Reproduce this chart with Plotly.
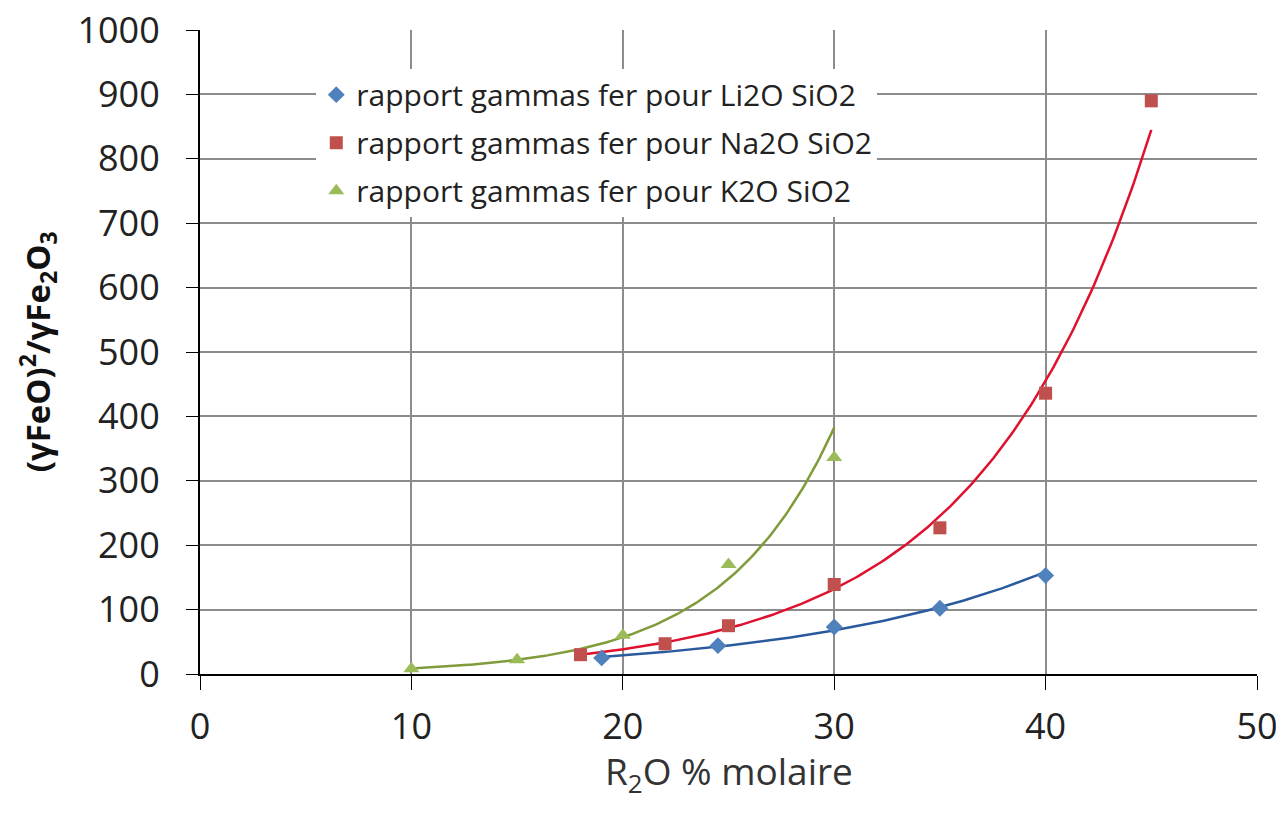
import numpy as np
import plotly.graph_objects as go

# Data
li_x = [19, 24.5, 30, 35, 40]
li_y = [25, 44, 73, 102, 153]
na_x = [18, 22, 25, 30, 35, 40, 45]
na_y = [30, 47, 75, 139, 227, 436, 890]
k_x = [10, 15, 20, 25, 30]
k_y = [8, 22, 60, 170, 336]

names = ["rapport gammas fer pour Li2O SiO2",
         "rapport gammas fer pour Na2O SiO2",
         "rapport gammas fer pour K2O SiO2"]
marker_colors = ["#4F81BD", "#C0504D", "#9BBB59"]
line_colors = ["#2A5A9E", "#E0112E", "#7F9B3A"]
symbols = ["diamond", "square", "triangle-up"]
msizes = [13, 13, 14]

FONT = "Open Sans"

fig = go.Figure()

series = [(li_x, li_y), (na_x, na_y), (k_x, k_y)]

# Exponential trendlines (least squares on log y, like a spreadsheet trendline)
for (xs, ys), lc in zip(series, line_colors):
    xs_a = np.array(xs, dtype=float)
    b, a = np.polyfit(xs_a, np.log(np.array(ys, dtype=float)), 1)
    xf = np.linspace(xs_a.min(), xs_a.max(), 200)
    fig.add_trace(go.Scatter(x=xf, y=np.exp(a + b * xf), mode="lines",
                             line=dict(color=lc, width=2.5),
                             showlegend=False, hoverinfo="skip"))

for i, ((xs, ys), n, mc, sym, ms) in enumerate(zip(series, names, marker_colors, symbols, msizes)):
    fig.add_trace(go.Scatter(x=xs, y=ys, mode="markers", name=n,
                             legendgroup=f"g{i}",
                             marker=dict(color=mc, symbol=sym, size=ms)))

fig.update_layout(
    width=1276, height=799,
    paper_bgcolor="white", plot_bgcolor="white",
    margin=dict(l=192, r=27, t=22, b=133),
    font=dict(family=FONT, color="#222222"),
    legend=dict(x=0.11, y=0.94, xanchor="left", yanchor="top",
                bgcolor="rgba(255,255,255,1)",
                font=dict(size=30, family=FONT, color="#222222"),
                tracegroupgap=6, itemsizing="trace"),
    annotations=[
        dict(text="R<sub>2</sub>O % molaire", xref="paper", yref="paper",
             x=0.5, y=-0.153, xanchor="center", yanchor="middle",
             showarrow=False, font=dict(size=37, family=FONT, color="#333333")),
        dict(text="<b>(γFeO)<sup>2</sup>/γFe<sub>2</sub>O<sub>3</sub></b>",
             xref="paper", yref="paper", x=-0.154, y=0.5,
             xanchor="center", yanchor="middle", textangle=-90,
             showarrow=False, font=dict(size=33, family=FONT, color="#111111")),
    ],
)

fig.update_xaxes(range=[0, 50], tickvals=[0, 10, 20, 30, 40, 50],
                 showgrid=True, gridcolor="#8C8C8C", gridwidth=1.5,
                 showline=True, linecolor="black", linewidth=2,
                 ticks="outside", ticklen=14, tickcolor="black",
                 ticklabelstandoff=6, ticklabeloverflow="allow",
                 tickfont=dict(size=36, family=FONT, color="#222222"),
                 zeroline=False, automargin=False)
fig.update_yaxes(range=[0, 1000], tickvals=list(range(0, 1001, 100)),
                 showgrid=True, gridcolor="#8C8C8C", gridwidth=1.5,
                 showline=True, linecolor="black", linewidth=2,
                 ticks="outside", ticklen=12, tickcolor="black",
                 ticklabelstandoff=19, ticklabeloverflow="allow",
                 tickfont=dict(size=36, family=FONT, color="#222222"),
                 zeroline=False, automargin=False)

fig.write_html("out.html")
